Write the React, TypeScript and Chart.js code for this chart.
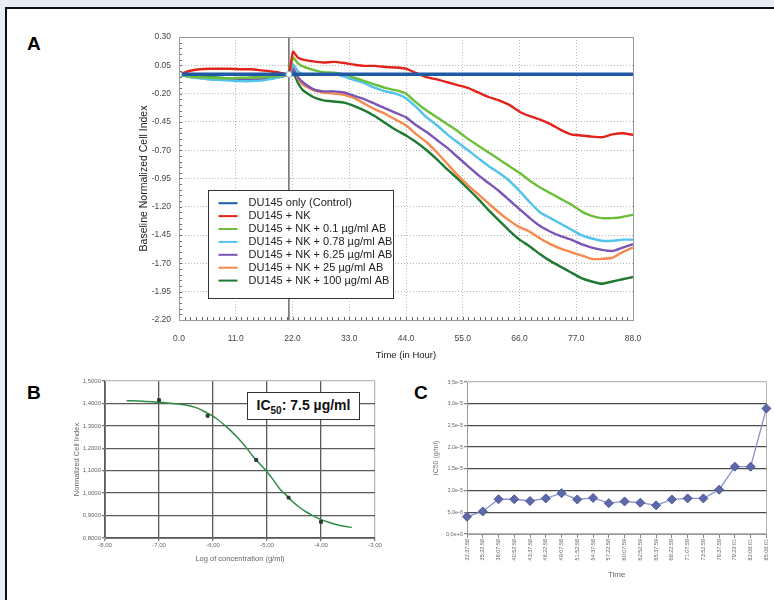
import React, { useEffect, useRef } from "react";
import { Chart, registerables } from "chart.js";

Chart.register(...registerables);

const FONT = 'Arial, "Liberation Sans", Helvetica, sans-serif';

// ---------------- Panel A data ----------------
const A_TIMES = [0, 2, 4, 6, 8, 10, 12, 14, 16, 18, 20, 21.3, 22.1, 23, 24, 26, 28, 30, 32, 34, 36, 38, 40, 42, 44, 46, 48, 50, 52, 54, 56, 58, 60, 62, 64, 66, 68, 70, 72, 74, 76, 78, 80, 82, 84, 86, 88];
const A_X_TICK_STEP = 11;
const A_Y_MIN = -2.2;
const A_Y_MAX = 0.3;
const A_Y_TICK_STEP = 0.25;
const A_NK_ADDED_AT = 21.3;

const A_LABELS = [
  "DU145 only (Control)",
  "DU145 + NK",
  "DU145 + NK + 0.1 µg/ml AB",
  "DU145 + NK + 0.78 µg/ml AB",
  "DU145 + NK + 6.25 µg/ml AB",
  "DU145 + NK + 25 µg/ml AB",
  "DU145 + NK + 100 µg/ml AB",
];

const A_CONTROL = [-0.03, -0.03, -0.03, -0.03, -0.03, -0.03, -0.03, -0.03, -0.03, -0.03, -0.03, -0.03, -0.03, -0.03, -0.03, -0.03, -0.03, -0.03, -0.03, -0.03, -0.03, -0.03, -0.03, -0.03, -0.03, -0.03, -0.03, -0.03, -0.03, -0.03, -0.03, -0.03, -0.03, -0.03, -0.03, -0.03, -0.03, -0.03, -0.03, -0.03, -0.03, -0.03, -0.03, -0.03, -0.03, -0.03, -0.03];
const A_NK = [-0.03, 0.0, 0.015, 0.02, 0.02, 0.02, 0.015, 0.015, 0.005, -0.005, -0.02, -0.03,
  0.17, 0.12, 0.10, 0.085, 0.075, 0.08, 0.07, 0.055, 0.045, 0.045, 0.035, 0.03, 0.02, -0.02, -0.055, -0.075, -0.10, -0.125, -0.15, -0.19, -0.23, -0.26, -0.30, -0.36, -0.40, -0.43, -0.47, -0.52, -0.56, -0.57, -0.58, -0.585, -0.56, -0.55, -0.565];
const A_AB_0_1 = [-0.03, -0.05, -0.055, -0.06, -0.065, -0.065, -0.06, -0.06, -0.055, -0.05, -0.04, -0.03,
  0.12, 0.07, 0.04, 0.01, -0.01, -0.015, -0.03, -0.06, -0.09, -0.12, -0.15, -0.17, -0.20, -0.28, -0.35, -0.41, -0.47, -0.53, -0.60, -0.66, -0.72, -0.78, -0.84, -0.90, -0.97, -1.03, -1.08, -1.13, -1.18, -1.24, -1.28, -1.30, -1.30, -1.29, -1.27];
const A_AB_0_78 = [-0.03, -0.055, -0.065, -0.075, -0.08, -0.085, -0.09, -0.09, -0.085, -0.07, -0.05, -0.03,
  0.06, 0.0, -0.03, -0.035, -0.03, -0.025, -0.05, -0.08, -0.11, -0.15, -0.18, -0.20, -0.24, -0.32, -0.41, -0.48, -0.56, -0.63, -0.70, -0.77, -0.84, -0.90, -0.97, -1.06, -1.16, -1.25, -1.30, -1.35, -1.40, -1.45, -1.48, -1.50, -1.50, -1.49, -1.49];
const A_AB_6_25 = [-0.03, -0.05, -0.06, -0.07, -0.075, -0.075, -0.08, -0.08, -0.075, -0.065, -0.05, -0.03,
  0.02, -0.05, -0.10, -0.16, -0.18, -0.18, -0.19, -0.22, -0.25, -0.29, -0.33, -0.37, -0.41, -0.48, -0.54, -0.61, -0.68, -0.76, -0.84, -0.92, -0.99, -1.06, -1.14, -1.22, -1.30, -1.37, -1.42, -1.46, -1.49, -1.53, -1.56, -1.58, -1.59, -1.56, -1.53];
const A_AB_25 = [-0.03, -0.05, -0.06, -0.065, -0.07, -0.07, -0.07, -0.07, -0.065, -0.055, -0.045, -0.03,
  0.04, -0.06, -0.12, -0.17, -0.19, -0.20, -0.21, -0.24, -0.29, -0.34, -0.38, -0.43, -0.48, -0.56, -0.63, -0.72, -0.82, -0.92, -1.01, -1.09, -1.17, -1.25, -1.32, -1.38, -1.42, -1.48, -1.53, -1.57, -1.60, -1.63, -1.66, -1.66, -1.65, -1.60, -1.56];
const A_AB_100 = [-0.03, -0.045, -0.05, -0.055, -0.06, -0.065, -0.065, -0.06, -0.055, -0.05, -0.04, -0.03,
  -0.01, -0.10, -0.17, -0.23, -0.26, -0.27, -0.28, -0.31, -0.35, -0.40, -0.46, -0.52, -0.57, -0.63, -0.70, -0.78, -0.87, -0.95, -1.04, -1.13, -1.23, -1.32, -1.41, -1.49, -1.55, -1.62, -1.68, -1.73, -1.78, -1.83, -1.86, -1.88, -1.86, -1.84, -1.82];

const A_SERIES = [A_CONTROL, A_NK, A_AB_0_1, A_AB_0_78, A_AB_6_25, A_AB_25, A_AB_100];
const A_COLORS = ["#1f5aa6", "#e2231a", "#6cbf3a", "#52c3ea", "#7b55b5", "#f58a4c", "#1f7a31"];
const A_WIDTHS = [3.5, 2.4, 2.4, 2.4, 2.4, 2.4, 2.4];

// ---------------- Panel B data ----------------
const B_POINT_X = [-7.0, -6.1, -5.2, -4.6, -4.0];
const B_POINT_Y = [1.415, 1.345, 1.148, 0.98, 0.872];
const B_CURVE_X = [-7.6, -7.3, -7.0, -6.75, -6.5, -6.3, -6.15, -5.95, -5.77, -5.65, -5.53, -5.4, -5.28, -5.14, -5.0, -4.88, -4.77, -4.64, -4.52, -4.4, -4.28, -4.15, -4.02, -3.87, -3.72, -3.57, -3.43];
const B_CURVE_Y = [1.412, 1.41, 1.405, 1.4, 1.393, 1.38, 1.363, 1.335, 1.30, 1.273, 1.244, 1.208, 1.17, 1.132, 1.095, 1.058, 1.021, 0.99, 0.961, 0.937, 0.917, 0.9, 0.884, 0.871, 0.86, 0.852, 0.847];
const B_X_MIN = -8;
const B_X_MAX = -3;
const B_Y_MIN = 0.8;
const B_Y_MAX = 1.5;
const B_Y_STEP = 0.1;
const B_IC50_TEXT = ": 7.5 µg/ml";

// ---------------- Panel C data ----------------
const C_TIMES = ["32:37:58", "35:22:58", "38:07:58", "40:52:58", "43:37:58", "46:22:58", "49:07:58", "51:52:58", "54:37:58", "57:22:58", "60:07:59", "62:52:59", "65:37:59", "68:22:59", "71:07:59", "73:52:59", "76:37:59", "79:23:01", "82:08:01", "85:08:01"];
const C_IC50 = [3.98e-6, 5.2e-6, 8.0e-6, 8.0e-6, 7.6e-6, 8.2e-6, 9.4e-6, 7.95e-6, 8.3e-6, 7.1e-6, 7.5e-6, 7.2e-6, 6.6e-6, 7.95e-6, 8.2e-6, 8.2e-6, 1.02e-5, 1.55e-5, 1.55e-5, 2.89e-5];
const C_Y_MIN = 0;
const C_Y_MAX = 3.5e-5;
const C_Y_STEP = 5e-6;

// ---------------- plugins ----------------
const frameAndMinorTicks = {
  id: "frameAndMinorTicks",
  afterDraw(chart: any, _args: any, opts: any) {
    if (!opts || !opts.enabled) return;
    const { ctx, chartArea, scales } = chart;
    const { left, right, top, bottom } = chartArea;
    ctx.save();
    ctx.strokeStyle = opts.color;
    ctx.lineWidth = 1;
    ctx.beginPath();
    const ys = scales.y;
    for (let v = ys.min; v <= ys.max + 1e-9; v += opts.yStep) {
      const p = Math.round(ys.getPixelForValue(v)) + 0.5;
      ctx.moveTo(left, p);
      ctx.lineTo(left + opts.len, p);
    }
    const xs = scales.x;
    for (let v = xs.min; v <= xs.max + 1e-9; v += opts.xStep) {
      const p = Math.round(xs.getPixelForValue(v)) + 0.5;
      ctx.moveTo(p, bottom);
      ctx.lineTo(p, bottom - opts.len);
    }
    ctx.stroke();
    ctx.strokeStyle = opts.frameColor;
    ctx.lineWidth = 1;
    ctx.strokeRect(Math.round(left) + 0.5, Math.round(top) + 0.5, Math.round(right - left), Math.round(bottom - top));
    ctx.restore();
  },
};

const insideLegend = {
  id: "insideLegend",
  afterDraw(chart: any, _args: any, opts: any) {
    if (!opts || !opts.enabled) return;
    const { ctx, chartArea } = chart;
    const x0 = Math.round(chartArea.left + opts.dx) + 0.5;
    const y0 = Math.round(chartArea.top + opts.dy) + 0.5;
    const items = chart.data.datasets.filter((d: any) => !d.noLegend);
    ctx.save();
    ctx.fillStyle = "#ffffff";
    ctx.fillRect(x0, y0, opts.w, opts.h);
    ctx.strokeStyle = "#333";
    ctx.lineWidth = 1;
    ctx.strokeRect(x0, y0, opts.w, opts.h);
    ctx.font = `11px ${FONT}`;
    ctx.textBaseline = "middle";
    ctx.textAlign = "left";
    items.forEach((d: any, i: number) => {
      const cy = y0 + opts.firstRow + i * opts.rowGap;
      ctx.strokeStyle = d.borderColor;
      ctx.lineWidth = 2;
      ctx.beginPath();
      ctx.moveTo(x0 + 10, cy);
      ctx.lineTo(x0 + 29, cy);
      ctx.stroke();
      ctx.fillStyle = "#222";
      ctx.fillText(d.label, x0 + 40, cy);
    });
    ctx.restore();
  },
};

// ---------------- configs ----------------
function configA(): any {
  const datasets: any[] = A_SERIES.map((vals, i) => ({
    label: A_LABELS[i],
    data: A_TIMES.map((t, k) => ({ x: t, y: vals[k] })),
    borderColor: A_COLORS[i],
    backgroundColor: A_COLORS[i],
    borderWidth: A_WIDTHS[i],
    pointRadius: i === 0 ? A_TIMES.map((t) => (t === 0 || t === A_NK_ADDED_AT ? 3 : 0)) : 0,
    pointBackgroundColor: "#ffffff",
    pointBorderColor: "#7fa6d8",
    pointBorderWidth: 1,
    tension: 0.15,
  }));
  datasets.push({
    label: "NK added",
    noLegend: true,
    data: [
      { x: A_NK_ADDED_AT, y: A_Y_MAX },
      { x: A_NK_ADDED_AT, y: A_Y_MIN },
    ],
    borderColor: "#6a6a6a",
    borderWidth: 1.5,
    pointRadius: 0,
  });
  return {
    type: "line",
    data: { datasets },
    plugins: [frameAndMinorTicks, insideLegend],
    options: {
      animation: false,
      responsive: false,
      events: [],
      layout: { padding: { left: 34, top: 17, right: 47, bottom: 5 } },
      plugins: {
        legend: { display: false },
        tooltip: { enabled: false },
        frameAndMinorTicks: { enabled: true, color: "#666", frameColor: "#9a9a9a", len: 3, yStep: 0.05, xStep: 1.1 },
        insideLegend: { enabled: true, dx: 29, dy: 153, w: 185, h: 108, firstRow: 12.7, rowGap: 12.9 },
      },
      scales: {
        x: {
          type: "linear",
          min: 0,
          max: 88,
          afterFit: (s: any) => { s.height = 45; },
          ticks: { stepSize: A_X_TICK_STEP, callback: (v: number) => v.toFixed(1), font: { family: FONT, size: 8.5 }, color: "#444", padding: 14, maxRotation: 0 },
          grid: { color: "#b8b8b8", drawTicks: false },
          border: { display: false, dash: [1, 2] },
          title: { display: true, text: "Time (in Hour)", font: { family: FONT, size: 9.5 }, color: "#222" },
        },
        y: {
          type: "linear",
          min: A_Y_MIN,
          max: A_Y_MAX,
          afterFit: (s: any) => { s.width = 45; },
          ticks: { stepSize: A_Y_TICK_STEP, callback: (v: number) => v.toFixed(2), font: { family: FONT, size: 8.5 }, color: "#444", padding: 8 },
          grid: { color: "#b8b8b8", drawTicks: false },
          border: { display: false, dash: [1, 2] },
          title: { display: true, text: "Baseline Normalized Cell Index", font: { family: FONT, size: 10.5 }, color: "#222" },
        },
      },
    },
  };
}

function configB(): any {
  return {
    type: "scatter",
    data: {
      datasets: [
        {
          label: "measured",
          data: B_POINT_X.map((x, i) => ({ x, y: B_POINT_Y[i] })),
          pointStyle: "rect",
          pointRadius: 2,
          backgroundColor: "#2c3a34",
          borderColor: "#2c3a34",
          showLine: false,
        },
        {
          label: "fit",
          data: B_CURVE_X.map((x, i) => ({ x, y: B_CURVE_Y[i] })),
          showLine: true,
          pointRadius: 0,
          borderColor: "#2f8c46",
          borderWidth: 1.5,
          tension: 0.3,
        },
      ],
    },
    options: {
      animation: false,
      responsive: false,
      events: [],
      layout: { padding: { left: 28, top: 9, right: 25, bottom: 15 } },
      plugins: { legend: { display: false }, tooltip: { enabled: false } },
      scales: {
        x: {
          type: "linear",
          min: B_X_MIN,
          max: B_X_MAX,
          afterFit: (s: any) => { s.height = 29; },
          ticks: { stepSize: 1, callback: (v: number) => v.toFixed(2).replace(".", ","), font: { family: FONT, size: 6 }, color: "#666", padding: 1, maxRotation: 0 },
          grid: { color: (c: any) => (c.tick && c.tick.value === B_X_MAX ? "#bbbbbb" : "#5a5a5a"), lineWidth: 1.3, tickLength: 3, tickColor: "#777" },
          border: { color: "#777", width: 1 },
          title: { display: true, text: "Log of concentration (g/ml)", font: { family: FONT, size: 7.5 }, color: "#666" },
        },
        y: {
          type: "linear",
          min: B_Y_MIN,
          max: B_Y_MAX,
          afterFit: (s: any) => { s.width = 37; },
          ticks: { stepSize: B_Y_STEP, callback: (v: number) => v.toFixed(4).replace(".", ","), font: { family: FONT, size: 6 }, color: "#666", padding: 1 },
          grid: { color: (c: any) => (c.tick && Math.abs(c.tick.value - B_Y_MAX) < 1e-9 ? "#bbbbbb" : "#5a5a5a"), lineWidth: 1.3, tickLength: 3, tickColor: "#777" },
          border: { color: "#777", width: 1 },
          title: { display: true, text: "Normalized Cell Index", font: { family: FONT, size: 7.5 }, color: "#666" },
        },
      },
    },
  };
}

function configC(): any {
  return {
    type: "line",
    data: {
      labels: C_TIMES,
      datasets: [
        {
          label: "IC50",
          data: C_IC50,
          borderColor: "#8a93d2",
          borderWidth: 1.3,
          pointStyle: "rectRot",
          pointRadius: 4.5,
          pointBackgroundColor: "#5d68a8",
          pointBorderColor: "#4d5898",
          pointBorderWidth: 1,
          tension: 0,
        },
      ],
    },
    options: {
      animation: false,
      responsive: false,
      events: [],
      layout: { padding: { left: 28, top: 12, right: 6, bottom: 11 } },
      plugins: { legend: { display: false }, tooltip: { enabled: false } },
      scales: {
        x: {
          type: "category",
          offset: false,
          afterFit: (s: any) => { s.height = 50; },
          ticks: { autoSkip: false, minRotation: 90, maxRotation: 90, font: { family: FONT, size: 5.5 }, color: "#666", padding: 1 },
          grid: { color: (c: any) => (c.index === C_TIMES.length - 1 ? "#b5b5b5" : "rgba(0,0,0,0)"), tickColor: "#888", tickLength: 4, lineWidth: 1 },
          border: { color: "#999", width: 1 },
          title: { display: true, text: "Time", font: { family: FONT, size: 8 }, color: "#666" },
        },
        y: {
          type: "linear",
          min: C_Y_MIN,
          max: C_Y_MAX,
          afterFit: (s: any) => { s.width = 39; },
          ticks: { stepSize: C_Y_STEP, callback: (v: number) => v.toExponential(1).replace(".", ","), font: { family: FONT, size: 5.5 }, color: "#666", padding: 1 },
          grid: {
            color: (c: any) => (c.tick && (c.tick.value === C_Y_MIN || Math.abs(c.tick.value - C_Y_MAX) < 1e-12) ? "#b5b5b5" : "#4a4a4a"),
            lineWidth: 1.3,
            tickLength: 3,
            tickColor: "#888",
          },
          border: { color: "#999", width: 1 },
          title: { display: true, text: "IC50 (g/ml)", font: { family: FONT, size: 7 }, color: "#777" },
        },
      },
    },
  };
}

function ChartCanvas(props: { left: number; top: number; width: number; height: number; make: () => any }) {
  const ref = useRef<HTMLCanvasElement | null>(null);
  useEffect(() => {
    if (!ref.current) return;
    const chart = new Chart(ref.current, props.make());
    return () => chart.destroy();
  }, []);
  return (
    <canvas
      ref={ref}
      width={props.width}
      height={props.height}
      style={{ position: "absolute", left: props.left, top: props.top, width: props.width, height: props.height }}
    />
  );
}

const letterStyle = (left: number, top: number): React.CSSProperties => ({
  position: "absolute",
  left,
  top,
  fontFamily: FONT,
  fontWeight: "bold",
  fontSize: 19,
  lineHeight: "19px",
  color: "#000",
});

export default function App() {
  return (
    <div style={{ position: "absolute", left: 0, top: 0, width: 774, height: 600, overflow: "hidden", background: "#e8edf6" }}>
      <div
        style={{
          position: "absolute",
          left: 5,
          top: 7,
          width: 800,
          height: 640,
          background: "#ffffff",
          borderLeft: "2px solid #111",
          borderTop: "2px solid #111",
          boxSizing: "border-box",
        }}
      />
      <div style={letterStyle(27, 33.5)}>A</div>
      <div style={letterStyle(27, 382.5)}>B</div>
      <div style={letterStyle(414, 382.5)}>C</div>
      <ChartCanvas left={100} top={20} width={580} height={350} make={configA} />
      <ChartCanvas left={40} top={372} width={360} height={210} make={configB} />
      <ChartCanvas left={400} top={370} width={374} height={225} make={configC} />
      <div
        style={{
          position: "absolute",
          left: 247,
          top: 392,
          width: 113,
          height: 28,
          boxSizing: "border-box",
          border: "1.5px solid #333",
          background: "#fff",
          fontFamily: FONT,
          fontWeight: "bold",
          fontSize: 14,
          lineHeight: "25px",
          textAlign: "center",
          color: "#111",
          whiteSpace: "nowrap",
        }}
      >
        IC<sub style={{ fontSize: 10, lineHeight: 0 }}>50</sub>
        {B_IC50_TEXT}
      </div>
    </div>
  );
}
